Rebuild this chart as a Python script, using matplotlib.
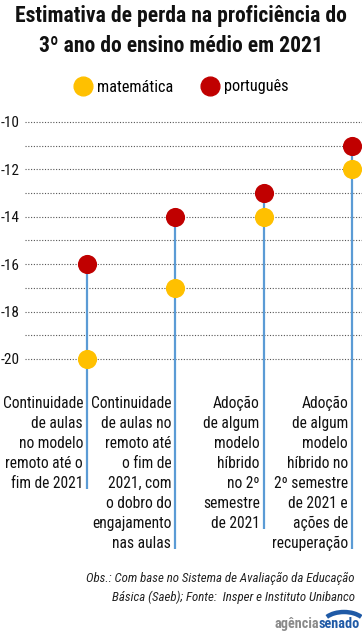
import matplotlib.pyplot as plt
import matplotlib.patches as mpatches
from matplotlib.transforms import offset_copy
import numpy as np

# data
categorias = [
    "Continuidade\nde aulas\nno modelo\nremoto até o\nfim de 2021",
    "Continuidade\nde aulas no\nremoto até\no fim de\n2021, com\no dobro do\nengajamento\nnas aulas",
    "Adoção\nde algum\nmodelo\nhíbrido\nno 2º\nsemestre\nde 2021",
    "Adoção\nde algum\nmodelo\nhíbrido no\n2º semestre\nde 2021 e\nações de\nrecuperação",
]
matematica = [-20, -17, -14, -12]
portugues = [-16, -14, -13, -11]
yticks = [-10, -12, -14, -16, -18, -20]
grid_vals = list(range(-10, -21, -1))

AMARELO = "#FFC000"
VERMELHO = "#C00000"
AZUL = "#5B9BD5"
plt.rcParams["font.family"] = ["Roboto Condensed", "Roboto", "DejaVu Sans"]

W, H = 362, 635
fig = plt.figure(figsize=(W / 100, H / 100), dpi=100)

# axes placed in pixels: x 25..362, y 105..555
ax = fig.add_axes([25 / W, (H - 555) / H, 337 / W, 450 / H])
x = np.arange(len(categorias))
ax.set_xlim(-0.702, 3.113)
ax.set_ylim(-28.27, -9.283)
for s in ax.spines.values():
    s.set_visible(False)
ax.set_xticks([])
ax.set_yticks(yticks)
ax.set_yticklabels([str(v) for v in yticks], fontsize=11, color="#111111")
ax.tick_params(axis="y", length=0, pad=4)

for g in grid_vals:
    ax.axhline(g, color="#555555", lw=0.8, ls=(0, (1, 1.5)), zorder=1)

# category labels, right aligned just left of each stem
trans = offset_copy(ax.transData, fig=fig, x=-4, y=0, units="dots")
label_top = -21.55
texts = []
for xi, lab in zip(x, categorias):
    t = ax.text(xi, label_top, lab, transform=trans, ha="right", va="top",
                fontsize=11.2, linespacing=1.42, color="#111111")
    texts.append(t)

fig.canvas.draw()
rend = fig.canvas.get_renderer()
inv = ax.transData.inverted()
for xi, t, top in zip(x, texts, portugues):
    bb = t.get_window_extent(rend)
    ybot = inv.transform((0, bb.y0 + 2))[1]
    ax.plot([xi, xi], [top, ybot], color=AZUL, lw=1.6, zorder=2,
            solid_capstyle="butt")

ax.scatter(x, matematica, s=190, color=AMARELO, zorder=3, linewidths=0)
ax.scatter(x, portugues, s=190, color=VERMELHO, zorder=3, linewidths=0)

# title
fig.text(0.5, 1 - 5 / H, "Estimativa de perda na proficiência do\n3º ano do ensino médio em 2021",
         ha="center", va="top", fontsize=15.6, fontweight="bold",
         linespacing=1.5, color="#111111")

# legend
h1 = plt.Line2D([], [], marker="o", ls="", ms=13.5, color=AMARELO, mec=AMARELO)
h2 = plt.Line2D([], [], marker="o", ls="", ms=13.5, color=VERMELHO, mec=VERMELHO)
fig.legend([h1, h2], ["matemática", "português"], loc="center",
           bbox_to_anchor=(0.5, 1 - 87 / H), ncol=2, frameon=False,
           fontsize=11.7, handletextpad=0.25, columnspacing=1.7,
           handlelength=1.2)

# footer
fig.text(355 / W, 1 - 578 / H, "Obs.: Com base no Sistema de Avaliação da Educação",
         ha="right", va="center", fontsize=9.3, style="italic", color="#222222")
fig.text(355 / W, 1 - 597 / H, "Básica (Saeb); Fonte:  Insper e Instituto Unibanco",
         ha="right", va="center", fontsize=9.3, style="italic", color="#222222")

# logo
fig.text(319 / W, 1 - 624 / H, "agência", ha="right", va="center",
         fontsize=10.3, fontweight="bold", color="#8a8a8a")
fig.text(319 / W, 1 - 624 / H, "senado", ha="left", va="center",
         fontsize=10.3, fontweight="bold", color="#1f5aa6")
arc = mpatches.Arc((344 / W, 1 - 625 / H), 44 / W, 26 / H, theta1=15, theta2=165,
                   transform=fig.transFigure, color="#1f5aa6", lw=3.2)
fig.patches.append(arc)

fig.savefig("out.png", dpi=100)
